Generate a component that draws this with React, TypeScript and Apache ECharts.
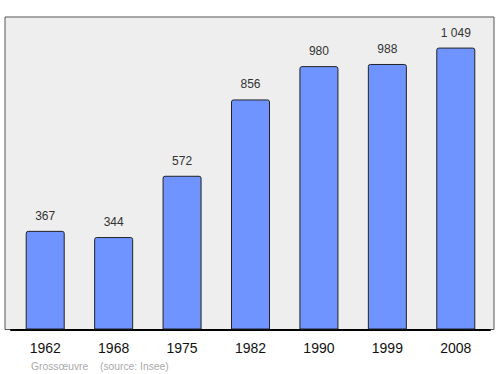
import React, { useEffect, useRef } from "react";
import * as echarts from "echarts";

const years = ["1962", "1968", "1975", "1982", "1990", "1999", "2008"];
const population = [367, 344, 572, 856, 980, 988, 1049];
const footerName = "Grossœuvre";
const footerSource = "(source: Insee)";

const fmt = (v: number) => {
  const s = String(v);
  return s.length > 3 ? s.slice(0, s.length - 3) + " " + s.slice(s.length - 3) : s;
};

export default function App() {
  const ref = useRef<HTMLDivElement>(null);
  useEffect(() => {
    document.body.style.margin = "0";
    const chart = echarts.init(ref.current!, null, { renderer: "svg" });
    chart.setOption({
      animation: false,
      backgroundColor: "#ffffff",
      textStyle: { fontFamily: "Liberation Sans, Arial, sans-serif" },
      graphic: [
        {
          type: "rect",
          z: -10,
          silent: true,
          shape: { x: 5, y: 17, width: 489, height: 312.5 },
          style: { fill: "#eeeeee", stroke: "#555555", lineWidth: 1 },
        },
        {
          type: "text",
          left: 31,
          top: 361,
          style: { text: footerName, fill: "#aaaaaa", fontSize: 10.3, fontFamily: "Liberation Sans, Arial, sans-serif" },
        },
        {
          type: "text",
          left: 100,
          top: 361,
          style: { text: footerSource, fill: "#aaaaaa", fontSize: 10.3, fontFamily: "Liberation Sans, Arial, sans-serif" },
        },
      ],
      grid: { left: 11, right: 10, top: 7, bottom: 44.5, containLabel: false },
      xAxis: {
        type: "category",
        data: years,
        axisLine: { show: true, lineStyle: { color: "#000000", width: 2 } },
        axisTick: { show: false },
        axisLabel: { color: "#111111", fontSize: 14, margin: 11 },
      },
      yAxis: {
        type: "value",
        min: 0,
        max: 1200,
        show: false,
        splitLine: { show: false },
      },
      series: [
        {
          type: "bar",
          data: population,
          barWidth: 39,
          itemStyle: {
            color: "#6f94ff",
            borderColor: "#222222",
            borderWidth: 1,
            borderRadius: [2, 2, 0, 0],
          },
          label: {
            show: true,
            position: "top",
            distance: 9,
            color: "#333333",
            fontSize: 12,
            formatter: (p: any) => fmt(p.value),
          },
        },
      ],
    });
    return () => chart.dispose();
  }, []);
  return <div ref={ref} style={{ width: 500, height: 374 }} />;
}
